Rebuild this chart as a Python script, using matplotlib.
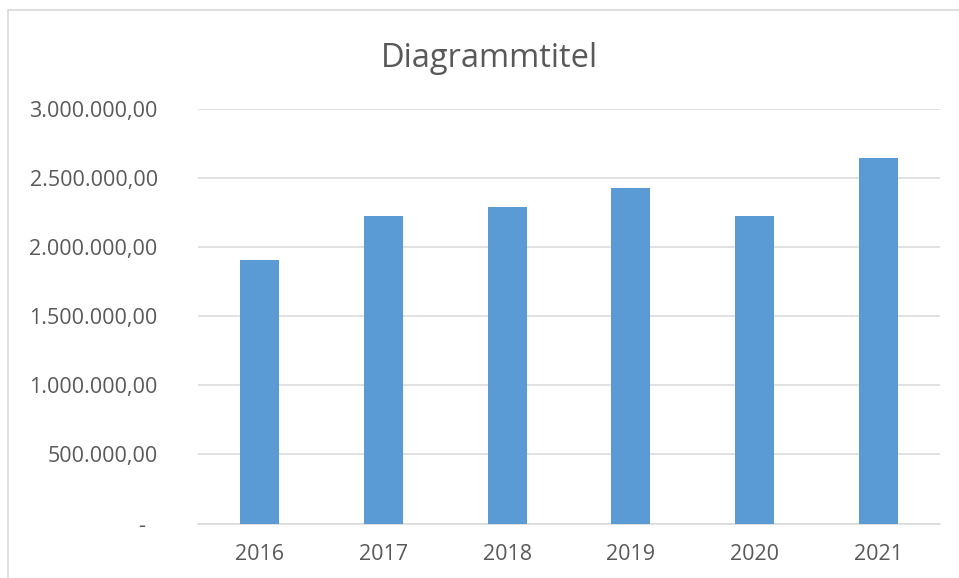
import matplotlib
matplotlib.use("Agg")
import matplotlib.pyplot as plt
from matplotlib.patches import Rectangle
from matplotlib.ticker import FuncFormatter, MultipleLocator

years = ["2016", "2017", "2018", "2019", "2020", "2021"]
values = [1905000, 2227000, 2288000, 2430000, 2227000, 2645000]
title = "Diagrammtitel"

BAR = "#5B9BD5"
TXT = "#595959"
GRID = "#D9D9D9"
FONT = "Open Sans"

fig = plt.figure(figsize=(9.59, 5.78), dpi=100)
ax = fig.add_axes([198/959, 1-523.5/578, (940-198)/959, (523.5-109)/578])

x = list(range(len(years)))
ax.bar(x, values, width=0.315, color=BAR, zorder=3)
ax.set_xlim(-0.5, len(years)-0.5)
ax.set_ylim(0, 3000000)
ax.yaxis.set_major_locator(MultipleLocator(500000))

def fmt(v, pos):
    if abs(v) < 1e-6:
        return "-  "
    s = f"{v:,.2f}"
    return s.replace(",", "X").replace(".", ",").replace("X", ".")

ax.yaxis.set_major_formatter(FuncFormatter(fmt))
ax.set_xticks(x)
ax.set_xticklabels(years)
ax.grid(axis="y", color=GRID, linewidth=1.1, zorder=0)
ax.set_axisbelow(True)
for s in ["left", "right", "top"]:
    ax.spines[s].set_visible(False)
ax.spines["bottom"].set_color(GRID)
ax.spines["bottom"].set_linewidth(1.1)
ax.tick_params(axis="both", length=0, colors=TXT, labelsize=15.5)
ax.tick_params(axis="y", pad=29)
ax.tick_params(axis="x", pad=15)
for lab in ax.get_xticklabels() + ax.get_yticklabels():
    lab.set_fontfamily(FONT)

fig.text(489/959, 1-67/578, title, ha="center", va="baseline",
         fontsize=23.5, color=TXT, family=FONT)

fig.patches.append(Rectangle((8/959, -0.1), 1.2, 1.1-10/578, transform=fig.transFigure,
                             fill=False, edgecolor=GRID, linewidth=1.2))

fig.savefig("out.png", dpi=100)
